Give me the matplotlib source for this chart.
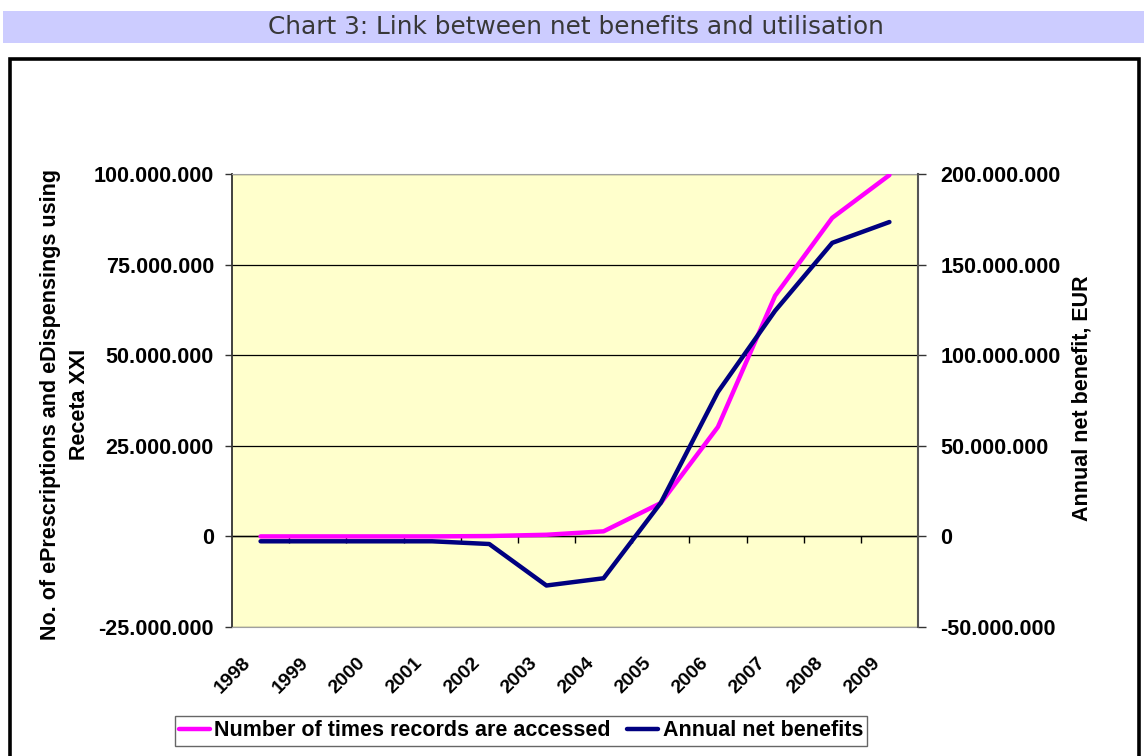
import matplotlib
matplotlib.use('Agg')
import matplotlib.pyplot as plt
from matplotlib.patches import Rectangle
from matplotlib.ticker import FuncFormatter, FixedLocator
from matplotlib.transforms import ScaledTranslation

years = ['1998', '1999', '2000', '2001', '2002', '2003', '2004',
         '2005', '2006', '2007', '2008', '2009']
# number of times records are accessed (left axis)
accessed = [0.0, 0.0, 0.0, 0.0, 0.1e6, 0.45e6, 1.4e6,
            9.2e6, 30.2e6, 66.4e6, 87.9e6, 99.7e6]
# annual net benefits, EUR (right axis)
net_benefits = [-2.7e6, -2.7e6, -2.7e6, -2.7e6, -4.2e6, -27.1e6, -23.1e6,
                18.5e6, 79.7e6, 124.5e6, 162.0e6, 173.5e6]

left_ticks = [-25e6, 0, 25e6, 50e6, 75e6, 100e6]
right_ticks = [-50e6, 0, 50e6, 100e6, 150e6, 200e6]


def dotted(v, pos=None):
    return f"{int(round(v)):,}".replace(',', '.')


plt.rcParams['font.family'] = ['Liberation Sans', 'DejaVu Sans']

fig = plt.figure(figsize=(11.44, 7.56), dpi=100)

# title banner + chart frame
fig.patches.append(Rectangle((3 / 1144, 1 - 43 / 756), 1.0, 32 / 756,
                             transform=fig.transFigure, facecolor='#CCCCFF',
                             edgecolor='none', zorder=0))
fig.text(576 / 1144, 1 - 27 / 756, 'Chart 3: Link between net benefits and utilisation',
         ha='center', va='center', fontsize=17.8, color='#383838',
         family='DejaVu Sans')
fig.patches.append(Rectangle((10 / 1144, -0.05), 1129 / 1144, 1.05 - 59 / 756,
                             transform=fig.transFigure, facecolor='none',
                             edgecolor='black', linewidth=2.6, zorder=0))

ax = fig.add_axes([232 / 1144, 129 / 756, 686 / 1144, 453 / 756])
ax.set_facecolor('#FFFFCC')
x = list(range(len(years)))

ax.set_xlim(-0.5, len(years) - 0.5)
ax.set_ylim(left_ticks[0], left_ticks[-1])
ax.yaxis.set_major_locator(FixedLocator(left_ticks))
ax.yaxis.set_major_formatter(FuncFormatter(dotted))
ax.grid(axis='y', color='black', linewidth=0.9)
ax.set_axisbelow(True)
ax.tick_params(axis='y', direction='out', length=5, width=1, pad=8,
               labelsize=15.5, color='#333333')
for lbl in ax.get_yticklabels():
    lbl.set_fontweight('bold')

ax.set_xticks(x)
ax.set_xticklabels(years, rotation=45, ha='right', va='center',
                   rotation_mode='anchor', fontsize=14, fontweight='bold')
ax.tick_params(axis='x', length=0, pad=24)
shift = ScaledTranslation(-12 / 100, 0, fig.dpi_scale_trans)
for lbl in ax.get_xticklabels():
    lbl.set_transform(lbl.get_transform() + shift)

ax.spines['left'].set_color('#333333')
ax.spines['left'].set_linewidth(1.3)
ax.spines['top'].set_color('#A0A0A0')
ax.spines['bottom'].set_color('#A0A0A0')
ax.spines['right'].set_visible(False)

# category axis line through zero with boundary ticks
zero_frac = (0 - left_ticks[0]) / (left_ticks[-1] - left_ticks[0])
sec = ax.secondary_xaxis(zero_frac)
sec.set_xticks([i + 0.5 for i in x[:-1]])
sec.tick_params(direction='out', length=5, width=1, labelbottom=False,
                color='black')
sec.spines['bottom'].set_color('black')
sec.spines['bottom'].set_linewidth(1)

ax2 = ax.twinx()
ax2.set_ylim(right_ticks[0], right_ticks[-1])
ax2.yaxis.set_major_locator(FixedLocator(right_ticks))
ax2.yaxis.set_major_formatter(FuncFormatter(dotted))
ax2.tick_params(axis='y', direction='out', length=6, width=1, pad=10,
                labelsize=15.5, color='#333333')
for lbl in ax2.get_yticklabels():
    lbl.set_fontweight('bold')
for s in ['left', 'top', 'bottom']:
    ax2.spines[s].set_visible(False)
ax2.spines['right'].set_color('#555555')
ax2.spines['right'].set_linewidth(1.5)

l1, = ax.plot(x, accessed, color='#FF00FF', linewidth=3.2,
              solid_capstyle='round', zorder=3,
              label='Number of times records are accessed')
l2, = ax2.plot(x, net_benefits, color='#000080', linewidth=3.2,
               solid_capstyle='round', zorder=3,
               label='Annual net benefits')

fig.text(65 / 1144, 1 - 404 / 756,
         'No. of ePrescriptions and eDispensings using\nReceta XXI',
         rotation=90, ha='center', va='center', fontsize=15.5,
         fontweight='bold', linespacing=1.45)
fig.text(1082 / 1144, 1 - 398 / 756, 'Annual net benefit, EUR',
         rotation=90, ha='center', va='center', fontsize=15.5,
         fontweight='bold')

leg = fig.legend([l1, l2], [l1.get_label(), l2.get_label()],
                 loc='center', bbox_to_anchor=(521 / 1144, 1 - 731 / 756),
                 ncol=2, frameon=True, fancybox=False,
                 handlelength=1.45, handletextpad=0.2, columnspacing=0.75,
                 borderpad=0.2, borderaxespad=0,
                 prop={'weight': 'bold', 'size': 15.5})
leg.get_frame().set_edgecolor('#404040')
leg.get_frame().set_linewidth(1.0)

fig.savefig('out.png', dpi=100)
